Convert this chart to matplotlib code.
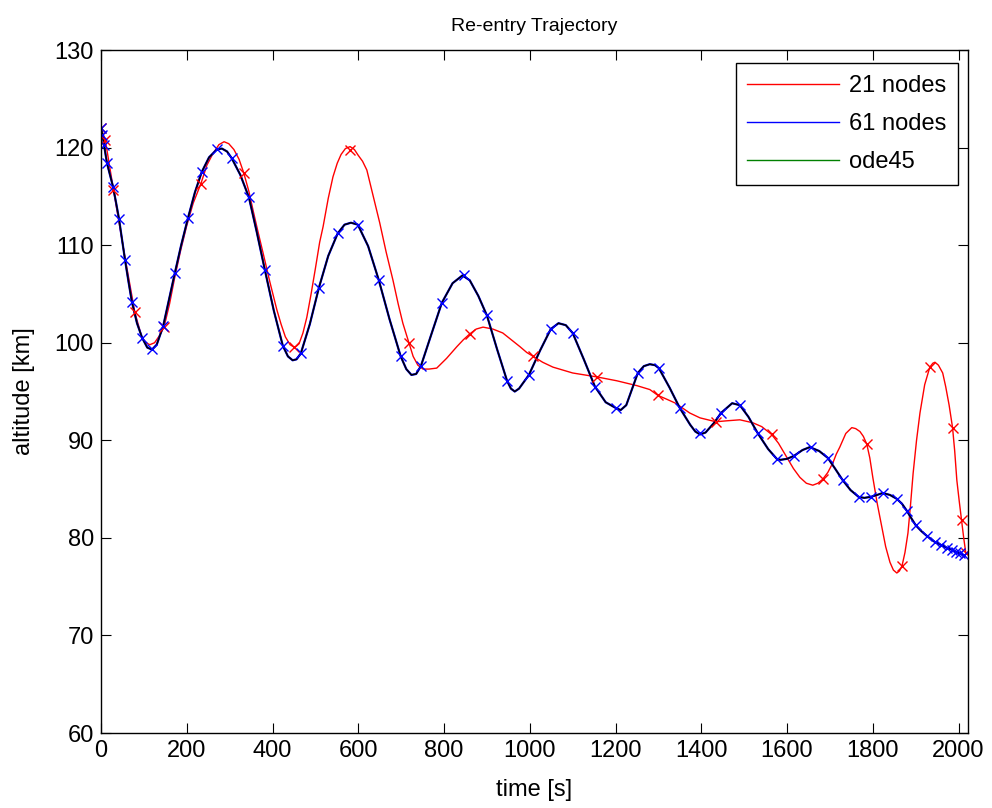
import matplotlib
matplotlib.use("Agg")
import matplotlib.pyplot as plt

plt.rcParams['font.family'] = ['Liberation Sans', 'DejaVu Sans']

# 21 nodes: interpolated curve
red_t = [0, 10, 29, 55, 79, 95, 105, 114, 125, 136, 147, 160, 172, 186, 200, 215,
         233, 247, 260, 275, 287, 298, 310, 322, 333, 345, 355, 366, 378, 394, 410,
         420, 430, 441, 452, 462, 471, 480, 490, 500, 510, 518, 530, 541, 551, 560,
         570, 581, 591, 600, 610, 620, 635, 650, 665, 681, 693, 704, 718, 728, 739,
         751, 765, 783, 806, 830, 845, 860, 875, 891, 914, 937, 957, 977, 993, 1008,
         1030, 1054, 1077, 1100, 1156, 1203, 1250, 1280, 1299, 1320, 1340, 1373,
         1397, 1434, 1460, 1490, 1520, 1541, 1564, 1580, 1599, 1615, 1630, 1645,
         1660, 1672, 1683, 1695, 1707, 1715, 1723, 1737, 1751, 1760, 1770, 1778,
         1786, 1793, 1800, 1810, 1821, 1830, 1840, 1848, 1856, 1862, 1868, 1875,
         1882, 1888, 1894, 1902, 1910, 1921, 1933, 1940, 1945, 1953, 1963, 1970,
         1978, 1986, 1991, 1996, 2002, 2007, 2012, 2017]
red_h = [122.0, 120.8, 115.7, 109.0, 103.1, 100.6, 100.0, 99.8, 100.0, 100.7, 101.6,
         104.0, 106.7, 109.5, 112.0, 114.3, 116.3, 118.2, 119.3, 120.3, 120.6, 120.4,
         119.8, 118.8, 117.4, 115.5, 113.5, 111.4, 109.2, 106.2, 103.4, 101.9, 100.6,
         99.8, 99.5, 99.9, 101.0, 102.6, 105.0, 107.6, 110.3, 111.9, 114.8, 117.0,
         118.4, 119.3, 119.9, 120.1, 119.8, 119.2, 118.6, 117.7, 115.0, 112.3, 109.3,
         106.4, 104.0, 102.0, 100.0, 98.6, 97.7, 97.3, 97.3, 97.4, 98.4, 99.6, 100.3,
         100.9, 101.4, 101.6, 101.4, 101.0, 100.3, 99.6, 99.0, 98.6, 98.0, 97.5,
         97.2, 96.9, 96.5, 96.1, 95.6, 95.2, 94.6, 94.2, 93.8, 92.8, 92.3, 91.9,
         92.0, 92.1, 91.8, 91.4, 90.6, 89.7, 88.3, 87.1, 86.2, 85.6, 85.4, 85.6,
         86.0, 86.7, 87.7, 88.6, 89.3, 90.7, 91.3, 91.2, 90.9, 90.4, 89.6, 88.2,
         86.2, 83.6, 81.1, 79.1, 77.5, 76.7, 76.4, 76.6, 77.1, 78.5, 80.5, 83.4,
         86.6, 90.0, 92.8, 95.7, 97.5, 97.9, 98.0, 97.7, 96.9, 95.5, 93.6, 91.3,
         88.9, 85.9, 83.6, 81.8, 80.0, 78.4]

# 21 nodes: node markers
red_nodes_t = [0, 10, 29, 79, 147, 233, 333, 451, 580, 718, 860, 1008, 1156, 1299,
               1434, 1564, 1683, 1786, 1868, 1933, 1986, 2007, 2017]
red_nodes_h = [122.0, 120.8, 115.7, 103.1, 101.6, 116.3, 117.4, 99.6, 119.75, 100.0,
               100.9, 98.6, 96.5, 94.6, 91.9, 90.6, 86.0, 89.6, 77.1, 97.5, 91.3,
               81.8, 78.4]

# 61 nodes: node markers
blue_t = [0, 2, 7, 14, 28, 42, 56, 72, 96, 119, 145, 172, 203, 235, 270, 305, 345,
          382, 424, 466, 508, 552, 599, 648, 699, 746, 795, 846, 900, 947, 998,
          1049, 1100, 1152, 1201, 1252, 1301, 1350, 1397, 1446, 1490, 1532, 1576,
          1616, 1655, 1695, 1730, 1767, 1795, 1823, 1856, 1879, 1900, 1926, 1944,
          1958, 1972, 1984, 1993, 2003, 2012]
blue_h = [122.0, 121.3, 120.3, 118.4, 116.0, 112.7, 108.5, 104.2, 100.5, 99.4, 101.7,
          107.1, 112.8, 117.5, 119.9, 118.9, 114.9, 107.5, 99.7, 98.9, 105.6, 111.2,
          112.1, 106.4, 98.6, 97.6, 104.1, 106.9, 102.8, 96.1, 96.7, 101.4, 101.0,
          95.5, 93.3, 96.9, 97.4, 93.3, 90.7, 92.8, 93.6, 90.7, 88.1, 88.4, 89.3,
          88.2, 85.9, 84.2, 84.2, 84.6, 84.0, 82.8, 81.3, 80.2, 79.6, 79.3, 79.0,
          78.8, 78.6, 78.4, 78.2]

# ode45 reference solution (the 61 node curve lies on top of it)
ode_t = [0, 4, 7, 14, 21, 28, 35, 42, 49, 56, 64, 72, 84, 96, 108, 119, 130, 145,
         158, 172, 187, 203, 219, 235, 252, 270, 282, 294, 305, 325, 345, 363, 382,
         403, 424, 436, 447, 456, 466, 487, 508, 530, 552, 568, 583, 599, 623, 648,
         673, 699, 712, 724, 735, 746, 770, 795, 820, 843, 860, 880, 900, 924, 947,
         956, 965, 975, 998, 1024, 1049, 1067, 1084, 1100, 1126, 1152, 1177, 1201,
         1212, 1225, 1252, 1266, 1280, 1292, 1301, 1326, 1350, 1374, 1386, 1397,
         1410, 1430, 1446, 1472, 1490, 1510, 1532, 1556, 1576, 1585, 1600, 1616,
         1636, 1653, 1675, 1695, 1712, 1730, 1748, 1767, 1780, 1795, 1810, 1823,
         1840, 1856, 1868, 1879, 1890, 1900, 1913, 1926, 1944, 1958, 1972, 1984,
         1993, 2003, 2012]
ode_h = [122.0, 121.2, 120.3, 118.4, 117.2, 116.0, 114.4, 112.7, 110.6, 108.5, 106.3,
         104.2, 102.0, 100.5, 99.5, 99.3, 99.8, 101.7, 104.3, 107.1, 110.0, 112.8,
         115.4, 117.5, 119.0, 119.8, 119.9, 119.6, 118.9, 117.2, 114.9, 111.4, 107.5,
         103.3, 99.7, 98.6, 98.2, 98.3, 98.9, 101.9, 105.6, 108.9, 111.2, 112.1,
         112.3, 112.1, 109.9, 106.4, 102.4, 98.6, 97.3, 96.7, 96.8, 97.6, 100.8,
         104.1, 106.1, 106.9, 106.4, 104.8, 102.8, 99.3, 96.1, 95.3, 95.0, 95.3,
         96.7, 99.2, 101.4, 102.0, 101.8, 101.0, 98.3, 95.5, 93.9, 93.3, 93.1, 93.6,
         96.9, 97.6, 97.8, 97.7, 97.4, 95.4, 93.3, 91.6, 90.9, 90.6, 90.8, 91.8,
         92.8, 93.8, 93.6, 92.4, 90.7, 89.1, 88.1, 88.0, 88.1, 88.4, 89.0, 89.3,
         88.9, 88.2, 87.1, 85.9, 84.9, 84.2, 84.1, 84.2, 84.4, 84.6, 84.4, 84.0,
         83.5, 82.8, 82.0, 81.3, 80.7, 80.2, 79.6, 79.3, 79.0, 78.8, 78.6, 78.4,
         78.2]

fig = plt.figure(figsize=(9.92, 8.08), dpi=100)
ax = fig.add_axes([0.1018, 0.0928, 0.874, 0.8453])

ax.plot(red_t, red_h, color='red', lw=1.0, label='21 nodes')
ax.plot(ode_t, ode_h, color='blue', lw=1.6, label='61 nodes')
ax.plot([], [], color='green', lw=1.0, label='ode45')
ax.plot(ode_t, ode_h, color='black', lw=1.1)
ax.plot(red_nodes_t, red_nodes_h, 'x', color='red', ms=7, mew=1.0)
ax.plot(blue_t, blue_h, 'x', color='blue', ms=7, mew=1.0)

ax.set_xlim(0, 2022)
ax.set_ylim(60, 130)
ax.set_xticks(range(0, 2001, 200))
ax.set_yticks(range(60, 131, 10))
ax.tick_params(direction='in', length=7, width=0.8, top=True, right=True,
               labelsize=17, pad=5)
for s in ax.spines.values():
    s.set_linewidth(1.0)

ax.set_title('Re-entry Trajectory', fontsize=14, pad=14)
ax.set_xlabel('time [s]', fontsize=17, labelpad=12)
ax.set_ylabel('altitude [km]', fontsize=17, labelpad=14)

leg = ax.legend(loc='upper right', bbox_to_anchor=(0.9885, 0.981), borderaxespad=0,
                fontsize=17, fancybox=False, framealpha=1, edgecolor='black',
                handlelength=3.9, handletextpad=0.4, labelspacing=0.68,
                borderpad=0.5)
leg.get_frame().set_linewidth(1.0)
for line in leg.get_lines():
    line.set_linewidth(1.0)

plt.savefig('out.png', dpi=100)
